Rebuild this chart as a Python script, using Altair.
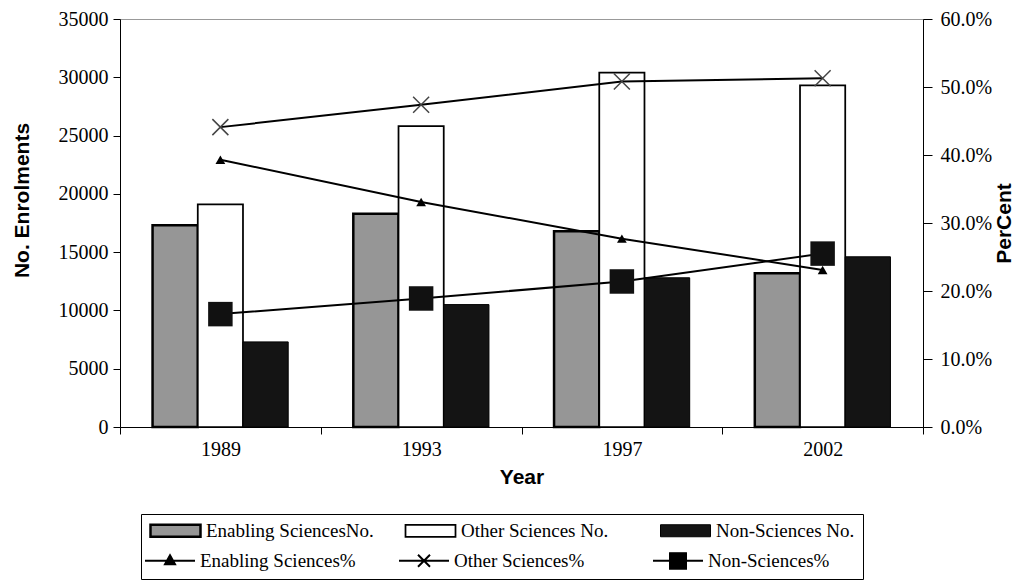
import altair as alt
import pandas as pd

years = ["1989", "1993", "1997", "2002"]

bar_series = ["Enabling SciencesNo.", "Other Sciences No.", "Non-Sciences No."]
enabling_no = [17300, 18300, 16800, 13200]
other_no = [19100, 25800, 30400, 29300]
non_no = [7300, 10500, 12800, 14600]

line_series = ["Enabling Sciences%", "Other Sciences%", "Non-Sciences%"]
enabling_pct = [39.3, 33.1, 27.7, 23.1]
other_pct = [44.1, 47.4, 50.8, 51.3]
non_pct = [16.6, 18.9, 21.4, 25.5]

left_ticks = [0, 5000, 10000, 15000, 20000, 25000, 30000, 35000]
right_ticks = [0, 10, 20, 30, 40, 50, 60]

bar_df = pd.DataFrame({
    "year": years * 3,
    "series": [s for s in bar_series for _ in years],
    "value": enabling_no + other_no + non_no,
})
pct_df = pd.DataFrame({
    "year": years * 3,
    "series": [s for s in line_series for _ in years],
    "pct": enabling_pct + other_pct + non_pct,
})
leg_df = pd.DataFrame({"lseries": line_series})

SERIF = "Liberation Serif"
SANS = "Liberation Sans"

X = alt.X(
    "year:N",
    sort=years,
    scale=alt.Scale(domain=years, paddingInner=0, paddingOuter=0),
    axis=alt.Axis(
        title="Year", labelAngle=0, tickBand="extent", tickSize=7,
        tickColor="black", domainColor="black", labelColor="black",
        labelFont=SERIF, labelFontSize=20, labelPadding=5,
        titleFont=SANS, titleFontSize=21, titleFontWeight="bold",
        titleColor="black", titlePadding=7, grid=False,
    ),
)

bars = alt.Chart(bar_df).mark_bar(stroke="black").encode(
    x=X,
    xOffset=alt.XOffset(
        "series:N", sort=bar_series,
        scale=alt.Scale(domain=bar_series, paddingInner=0, paddingOuter=0.72),
    ),
    y=alt.Y(
        "value:Q",
        scale=alt.Scale(domain=[0, 35000], nice=False),
        axis=alt.Axis(
            title="No. Enrolments", values=left_ticks, format="d",
            tickSize=7, tickColor="black", domainColor="black",
            labelColor="black", labelFont=SERIF, labelFontSize=20,
            labelPadding=5, titleFont=SANS, titleFontSize=21,
            titleFontWeight="bold", titleColor="black", titlePadding=26,
            titleY=181, grid=False,
        ),
    ),
    fill=alt.Fill(
        "series:N",
        scale=alt.Scale(domain=bar_series, range=["#969696", "#ffffff", "#141414"]),
        legend=alt.Legend(
            orient="none", legendX=21, legendY=495, direction="horizontal",
            columns=3, gridAlign="all", columnPadding=30,
            title=" ", titleOrient="bottom", titleFontSize=20, titlePadding=10,
            symbolType="M-1,-0.24H1V0.24H-1Z", symbolSize=2500,
            symbolStrokeColor="black", symbolStrokeWidth=1, clipHeight=17,
            labelFont=SERIF, labelFontSize=19, labelColor="black",
            labelOffset=4, labelLimit=400,
            strokeColor="black", padding=8,
        ),
    ),
    strokeWidth=alt.StrokeWidth(
        "series:N", scale=alt.Scale(domain=bar_series, range=[2.5, 1, 1]), legend=None
    ),
)

Y2 = alt.Y(
    "pct:Q",
    scale=alt.Scale(domain=[0, 60], nice=False),
    axis=alt.Axis(
        orient="right", title="PerCent", values=right_ticks,
        labelExpr="format(datum.value, '.1f') + '%'",
        tickSize=9, tickColor="black", domainColor="black",
        labelColor="black", labelFont=SERIF, labelFontSize=20, labelPadding=8,
        titleFont=SANS, titleFontSize=21, titleFontWeight="bold",
        titleColor="black", titleAngle=270, titleBaseline="top", titlePadding=2,
        grid=False,
    ),
)

lines = alt.Chart(pct_df).mark_line(color="black", strokeWidth=2).encode(
    x=X, y=Y2, detail="series:N"
)

tri = alt.Chart(pct_df).transform_filter(
    alt.datum.series == line_series[0]
).mark_point(shape="triangle-up", filled=True, color="black", size=95, opacity=1).encode(x=X, y=Y2)

xs = alt.Chart(pct_df).transform_filter(
    alt.datum.series == line_series[1]
).mark_point(shape="M-1,-1L1,1M-1,1L1,-1", filled=False, color="#444444",
             strokeWidth=1.5, size=256, opacity=1).encode(x=X, y=Y2)

sq = alt.Chart(pct_df).transform_filter(
    alt.datum.series == line_series[2]
).mark_point(shape="square", filled=True, color="#111111", size=600, opacity=1).encode(x=X, y=Y2)

legend_paths = [
    "M-1,0H1M0,-0.22L0.2,0.14L-0.2,0.14Z",
    "M-1,0H1M-0.24,-0.24L0.24,0.24M-0.24,0.24L0.24,-0.24",
    "M-1,0H1M-0.32,-0.32H0.32V0.32H-0.32Z",
]

legend_layer = alt.Chart(leg_df).mark_point(
    filled=True, fill="black", stroke="black", strokeWidth=2, opacity=0
).encode(
    shape=alt.Shape(
        "lseries:N", sort=line_series,
        scale=alt.Scale(domain=line_series, range=legend_paths),
        legend=alt.Legend(
            orient="none", legendX=24, legendY=533, direction="horizontal",
            columns=3, gridAlign="all", columnPadding=42, title=None,
            symbolSize=2500, symbolStrokeWidth=2, symbolOpacity=1, clipHeight=17,
            labelFont=SERIF, labelFontSize=19, labelColor="black",
            labelOffset=4, labelLimit=400, padding=0,
        ),
    ),
    x=alt.value(0),
    y=alt.value(0),
)

right = alt.layer(lines, tri, xs, sq, legend_layer)

chart = alt.layer(bars, right).resolve_scale(y="independent").properties(
    width=803,
    height=408,
    padding={"left": 112, "top": 11, "right": 92, "bottom": 154},
    autosize=alt.AutoSizeParams(type="none"),
    background="white",
).configure_view(stroke="#999999", strokeWidth=1)

chart.save("out.html", embed_options={"renderer": "svg", "actions": False})
